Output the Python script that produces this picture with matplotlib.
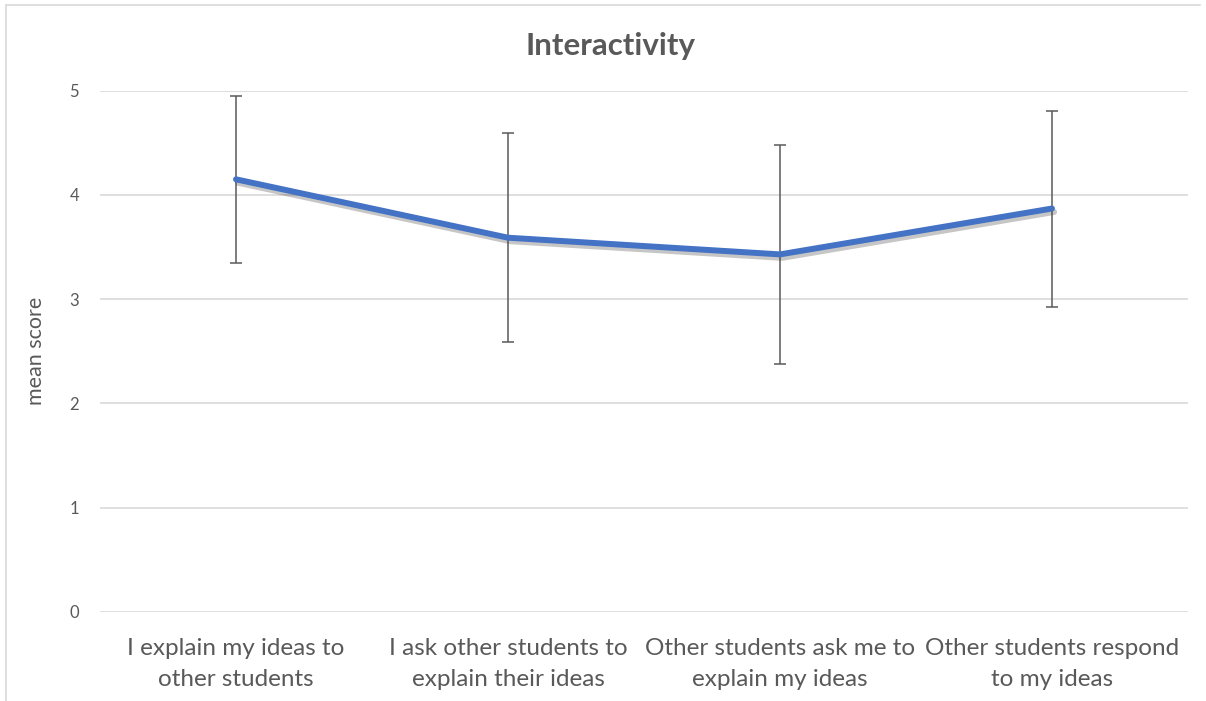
#!/usr/bin/env python3

import numpy as np
import matplotlib
matplotlib.use("Agg")
import matplotlib.pyplot as plt
import matplotlib.patheffects as pe
from matplotlib.lines import Line2D

# ----------------------------------------------------- data
categories = ["I explain my ideas to\nother students",
              "I ask other students to\nexplain their ideas",
              "Other students ask me to\nexplain my ideas",
              "Other students respond\nto my ideas"]
mean_score = [4.15, 3.59, 3.43, 3.87]
err_score  = [0.80, 1.00, 1.05, 0.94]
y_ticks    = [0, 1, 2, 3, 4, 5]
# -----------------------------------------------------

plt.rcParams['font.family'] = ['Lato', 'DejaVu Sans']
txt = '#595959'

fig = plt.figure(figsize=(12.06, 7.01), dpi=100)
ax = fig.add_axes([100/1206, 89/701, 1088/1206, 521.3/701])

x = np.arange(len(categories))

ax.errorbar(x, mean_score, yerr=err_score, fmt='none', ecolor='#5a5a5a',
            elinewidth=1.1, capsize=4.5, capthick=1.1, zorder=2)
ax.plot(x, mean_score, color='#4472C4', lw=4.3, solid_capstyle='round', zorder=3,
        path_effects=[pe.SimpleLineShadow(offset=(1.5, -2.5), shadow_color='#444444', alpha=0.3),
                      pe.Normal()])

ax.set_xlim(-0.5, len(categories) - 0.5)
ax.set_ylim(0, 5)
ax.set_yticks(y_ticks)
ax.set_xticks(x)
ax.set_xticklabels(categories, fontsize=17.5, color=txt, linespacing=1.55)
ax.tick_params(axis='y', labelsize=12, colors=txt, length=0, pad=15)
ax.tick_params(axis='x', length=0, pad=19)
ax.grid(axis='y', color='#d9d9d9', lw=1.2)
ax.set_axisbelow(True)
for s in ax.spines.values():
    s.set_visible(False)

ax.set_ylabel("mean score", fontsize=15.5, color=txt, labelpad=17)
fig.text(0.506, 0.934, "Interactivity", fontsize=22.5, fontweight='bold', color=txt,
         ha='center', va='center')

# chart area outline (top and left only)
fig.add_artist(Line2D([6/1206, 1200/1206], [1 - 5/701, 1 - 5/701], color='#d9d9d9', lw=1.2))
fig.add_artist(Line2D([6/1206, 6/1206], [0, 1 - 5/701], color='#d9d9d9', lw=1.2))

plt.savefig('out.png', dpi=100)
